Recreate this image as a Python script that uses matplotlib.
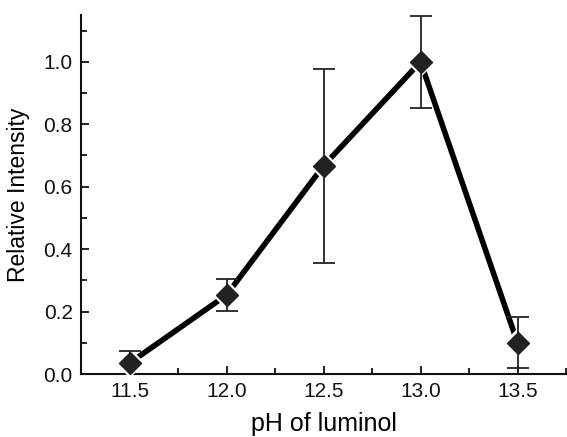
import numpy as np
import matplotlib
matplotlib.use("Agg")
import matplotlib.pyplot as plt
from matplotlib.ticker import MultipleLocator

plt.rcParams['font.family'] = ['Liberation Sans', 'DejaVu Sans']

ph = [11.5, 12.0, 12.5, 13.0, 13.5]
intensity = [0.035, 0.253, 0.667, 1.0, 0.10]
err = [0.04, 0.05, 0.31, 0.148, 0.082]

fig = plt.figure(figsize=(5.67, 4.37), dpi=100)
ax = fig.add_axes([81/567, 1-374/437, (567-81)/567, (374-15)/437])

# thick connecting line, broken near each point by a white halo
ax.plot(ph, intensity, color='black', lw=4, zorder=2, solid_capstyle='butt')
ax.plot(ph, intensity, ls='none', marker='D', ms=15, mfc='white', mec='white',
        mew=0, zorder=3)
ax.errorbar(ph, intensity, yerr=err, fmt='none', ecolor='#222222', elinewidth=1.3,
            capsize=8, capthick=1.3, zorder=4)
ax.plot(ph, intensity, ls='none', marker='D', ms=11, color='#222222', zorder=5)

ax.set_xlim(11.25, 13.755)
ax.set_ylim(0, 1.15)
ax.xaxis.set_major_locator(MultipleLocator(0.5))
ax.xaxis.set_minor_locator(MultipleLocator(0.25))
ax.yaxis.set_major_locator(MultipleLocator(0.2))
ax.yaxis.set_minor_locator(MultipleLocator(0.1))
ax.xaxis.set_major_formatter(matplotlib.ticker.FormatStrFormatter('%.1f'))
ax.yaxis.set_major_formatter(matplotlib.ticker.FormatStrFormatter('%.1f'))

for s in ['top', 'right']:
    ax.spines[s].set_visible(False)
for s in ['left', 'bottom']:
    ax.spines[s].set_linewidth(1.5)
    ax.spines[s].set_color('#111111')

ax.tick_params(which='both', direction='in', width=1.3, colors='#111111',
               labelsize=15, pad=6)
ax.tick_params(which='major', length=6)
ax.tick_params(which='minor', length=4)

ax.set_xlabel('pH of luminol', fontsize=18, labelpad=8)
ax.set_ylabel('Relative Intensity', fontsize=16.5, labelpad=10)

fig.savefig('out.png', dpi=100)
